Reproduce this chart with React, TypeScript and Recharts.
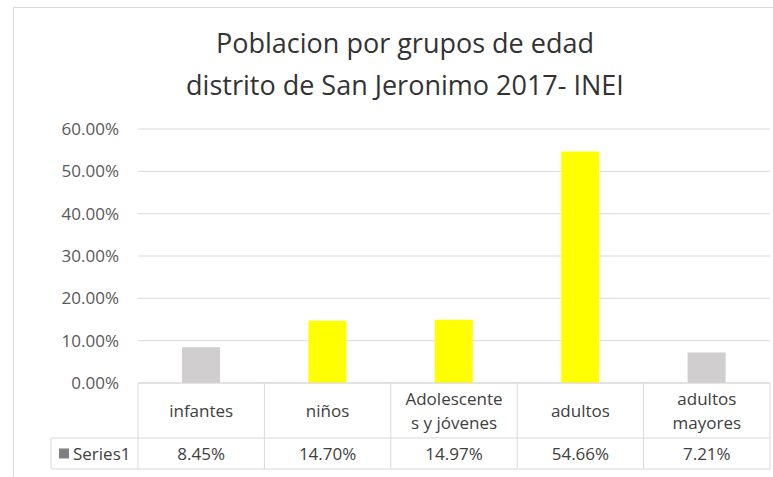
import React from "react"
import { BarChart, Bar, XAxis, YAxis, CartesianGrid, Cell } from "recharts"

const categories = ["infantes", "niños", "Adolescente\ns y jóvenes", "adultos", "adultos\nmayores"]
const shares = [0.0845, 0.147, 0.1497, 0.5466, 0.0721]
const barColors = ["#D0CECE", "#FFFF00", "#FFFF00", "#FFFF00", "#D0CECE"]
const yTicks = [0, 0.1, 0.2, 0.3, 0.4, 0.5, 0.6]
const seriesName = "Series1"

const data = categories.map((name, i) => ({ name, value: shares[i] }))

const FONT = "'Open Sans', sans-serif"
const BORDER = "#d9d9d9"
const TEXT = "#404040"

const W = 773
const H = 477
const PLOT_LEFT = 138
const PLOT_RIGHT = 3
const ROW1 = 55
const ROW2 = 31
const LEGEND_W = 87

const pct = (v: number) => (v * 100).toFixed(2) + "%"

function TableTick(props: any) {
  const { x, y, payload, index } = props
  const half = payload?.offset > 0 ? payload.offset : (W - PLOT_LEFT - PLOT_RIGHT) / categories.length / 2
  const lines = String(payload.value).split("\n")
  const left = x - half
  const right = x + half
  const mid = y + ROW1 / 2
  return (
    <g fontFamily={FONT} fontSize={17} fill={TEXT}>
      {/* cell borders */}
      <line x1={left} x2={right} y1={y} y2={y} stroke={BORDER} />
      <line x1={left} x2={right} y1={y + ROW1} y2={y + ROW1} stroke={BORDER} />
      <line x1={left} x2={right} y1={y + ROW1 + ROW2} y2={y + ROW1 + ROW2} stroke={BORDER} />
      <line x1={left} x2={left} y1={y} y2={y + ROW1 + ROW2} stroke={BORDER} />
      {index === categories.length - 1 && (
        <line x1={right} x2={right} y1={y} y2={y + ROW1 + ROW2} stroke={BORDER} />
      )}
      {lines.map((l, i) => (
        <text
          key={i}
          x={x}
          y={mid + (i - (lines.length - 1) / 2) * 24}
          textAnchor="middle"
          dominantBaseline="central"
        >
          {l}
        </text>
      ))}
      <text x={x} y={y + ROW1 + ROW2 / 2} textAnchor="middle" dominantBaseline="central">
        {pct(shares[index])}
      </text>
      {index === 0 && (
        <g>
          <line x1={left - LEGEND_W} x2={left} y1={y + ROW1} y2={y + ROW1} stroke={BORDER} />
          <line
            x1={left - LEGEND_W}
            x2={left}
            y1={y + ROW1 + ROW2}
            y2={y + ROW1 + ROW2}
            stroke={BORDER}
          />
          <line
            x1={left - LEGEND_W}
            x2={left - LEGEND_W}
            y1={y + ROW1}
            y2={y + ROW1 + ROW2}
            stroke={BORDER}
          />
          <rect x={left - LEGEND_W + 8} y={y + ROW1 + ROW2 / 2 - 5} width={10} height={10} fill="#7f7f7f" />
          <text x={left - LEGEND_W + 22} y={y + ROW1 + ROW2 / 2} dominantBaseline="central">
            {seriesName}
          </text>
        </g>
      )}
    </g>
  )
}

export default function App() {
  return (
    <div
      style={{
        position: "absolute",
        left: 0,
        top: 0,
        width: W,
        height: H,
        background: "#fff",
        overflow: "hidden",
        fontFamily: FONT,
      }}
    >
      <div
        style={{
          position: "absolute",
          left: 13,
          top: 7,
          width: W,
          height: H,
          borderTop: `1px solid ${BORDER}`,
          borderLeft: `1px solid ${BORDER}`,
        }}
      />
      <div
        style={{
          position: "absolute",
          left: 13,
          top: 22,
          width: 784,
          textAlign: "center",
          fontSize: 27,
          lineHeight: "42px",
          color: "#333",
        }}
      >
        Poblacion por grupos de edad
        <br />
        distrito de San Jeronimo 2017- INEI
      </div>
      <div style={{ position: "absolute", left: 0, top: 0 }}>
        <BarChart
          width={W}
          height={H}
          data={data}
          margin={{ top: 129, right: PLOT_RIGHT, bottom: 8, left: 0 }}
          barSize={38}
        >
          <CartesianGrid vertical={false} stroke={BORDER} />
          <YAxis
            width={PLOT_LEFT}
            domain={[0, 0.6]}
            ticks={yTicks}
            tickFormatter={pct}
            axisLine={false}
            tickLine={false}
            tickMargin={13}
            tick={{ fontSize: 17, fill: "#595959", fontFamily: FONT }}
          />
          <XAxis
            dataKey="name"
            height={ROW1 + ROW2}
            axisLine={false}
            tickLine={false}
            tickSize={0}
            tickMargin={0}
            interval={0}
            tick={<TableTick />}
          />
          <Bar dataKey="value" isAnimationActive={false}>
            {data.map((_, i) => (
              <Cell key={i} fill={barColors[i]} />
            ))}
          </Bar>
        </BarChart>
      </div>
    </div>
  )
}
